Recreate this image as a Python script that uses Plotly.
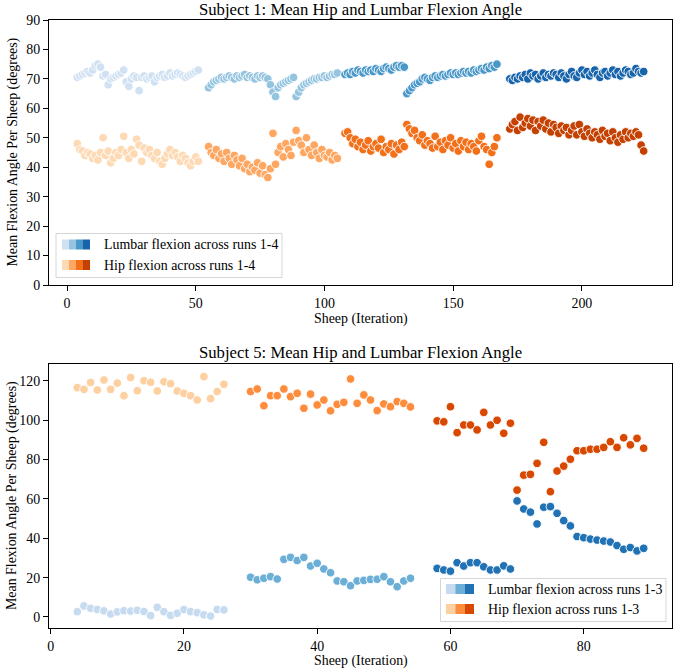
import plotly.graph_objects as go

# ---------------- DATA ----------------
# Subject 1 (4 runs)
s1_starts = [4, 55, 108, 172]
s1_lumbar_run1 = [70.5, 71, 71.5, 72, 72.5, 72, 73, 74.5, 75, 74, 71, 71.5, 68, 70, 70.5, 71, 71.5, 72, 73, 69,
                  67.5, 70, 71, 70.5, 66, 70.5, 71, 70, 70.5, 71, 69, 70.5, 71, 71.5, 70.5, 71, 72, 71, 71.5, 72,
                  71.5, 71, 70.5, 71, 71.5, 72, 72.5, 73]
s1_lumbar_run2 = [67, 68, 69, 69.5, 70, 70.5, 70, 70.5, 71, 70.5, 70, 71, 70.5, 71, 71.5, 70.5, 71, 70.5, 70, 71,
                  70.5, 71, 70.5, 70, 68, 65.5, 64, 67, 68, 68.5, 69, 69.5, 70, 70.5, 64, 65.5, 67, 68, 68.5, 69,
                  69.5, 70, 70, 70.5, 70.5, 71, 70.5, 71, 71.5, 71.5, 72]
s1_lumbar_run3 = [71.5, 72, 71.5, 72.5, 72, 73, 72.5, 72, 73, 72.5, 73, 72.5, 73.5, 73, 72.5, 73.5, 74, 73.5, 73, 74,
                  74.5, 74, 74.5, 74,
                  65, 66, 67, 68, 68.5, 69, 70, 70.5, 70, 69.5, 70.5, 71, 70.5, 71, 71.5, 71, 71.5, 72, 71.5, 72,
                  71.5, 72, 72.5, 72, 72.5, 72, 73, 72.5, 73, 73.5, 73, 74, 73.5, 74.5, 74, 75]
s1_lumbar_run4 = [70, 69.5, 70.5, 70, 71, 70.5, 71.5, 70, 72, 71, 71.5, 70, 71, 72, 70.5, 71.5, 71, 72, 71.5, 70.5,
                  72, 71, 70, 71.5, 72.5, 71, 70.5, 72, 73, 71.5, 72.5, 71, 72, 73, 71.5, 70.5, 72, 72.5, 71, 72,
                  73, 71.5, 72.5, 71, 72, 73, 72.5, 71.5, 72, 73.5, 72.5, 72, 72.5]
s1_hip_run1 = [48, 46, 45.5, 44, 45, 44.5, 43, 44, 42.5, 45, 50, 44, 45.5, 41.5, 43, 45, 44, 46, 50.5, 45,
               43, 46, 44.5, 49.5, 47.5, 42, 46.5, 45, 46, 44, 43, 45, 42, 41, 43, 44.5, 46, 44, 45, 43.5,
               42, 44, 43, 41.5, 40.5, 42, 43.5, 42]
s1_hip_run2 = [47, 45, 44, 46, 43, 44.5, 42, 45, 43, 41, 44, 42.5, 40.5, 43, 39.5, 41, 38.5, 40, 39, 41.5,
               38, 40.5, 37.5, 36.5, 39.5, 51.5, 41, 45, 47, 43.5, 48, 46, 44, 48.5, 52.5, 49, 47.5, 45, 50, 46,
               44, 47.5, 45, 43, 46, 44, 43.5, 45, 42.5, 44, 43]
s1_hip_run3 = [51.5, 52, 50, 48, 49.5, 47, 48.5, 46, 47.5, 49, 45.5, 47, 48, 46.5, 49.5, 45, 47, 46, 48, 44.5,
               47.5, 46, 48.5, 47,
               54.5, 53, 51.5, 52.5, 50, 49, 51, 47.5, 49, 48, 46.5, 50.5, 47, 48.5, 46, 49, 47.5, 50, 46.5, 48,
               45.5, 49, 47, 48.5, 46, 48, 47, 45.5, 49, 50.5, 47, 46, 41, 45, 47, 50]
s1_hip_run4 = [53, 54.5, 55.5, 52.5, 57, 53.5, 55, 56.5, 54, 56, 52.5, 55.5, 54, 56, 53, 55, 52, 54.5, 53.5, 51.5,
               54, 52.5, 53.5, 51, 52.5, 54, 51, 54.5, 52, 50.5, 53, 51.5, 50, 52, 51, 49.5, 52.5, 50.5, 51.5, 49,
               52, 50, 48.5, 51, 49.5, 52, 50, 51.5, 50.5, 52, 51, 47.5, 45.5]

# Subject 5 (3 runs)
s5_starts = [4, 30, 58]
s5_lumbar_run1 = [2.7, 5.6, 4.4, 3.8, 3.1, 1.5, 2.6, 3.2, 3.0, 3.4, 2.8, 0.7, 4.9, 2.7, 0.8, 1.9, 3.8, 2.7, 2.2,
                  1.1, 0.5, 3.8, 3.6]
s5_lumbar_run2 = [20.2, 18.9, 19.7, 20.5, 19.3, 29.3, 30.3, 28.7, 30.3, 25.9, 27.3, 24.4, 22.5, 18.3, 17.9, 15.9,
                  18.3, 18.6, 19.1, 19.2, 20.5, 17.9, 15.4, 18.3, 19.7]
s5_lumbar_run3 = [24.7, 23.9, 23.3, 27.6, 25.9, 27.6, 27.6, 25.5, 23.9, 23.9, 26.0, 24.4,
                  59.0, 54.9, 53.3, 47.3, 55.8, 56.1, 52.7, 49.0, 46.3, 40.9, 40.3, 39.6, 39.1, 38.6, 38.1, 36.3,
                  34.4, 35.3, 33.6, 34.9]
s5_hip_run1 = [116.6, 115.7, 119.2, 115.4, 120.5, 115.7, 118.9, 112.5, 121.7, 115.0, 120.1, 119.3, 114.9, 119.6,
               118.6, 114.9, 113.7, 112.5, 110.3, 122.2, 111.0, 114.6, 118.3]
s5_hip_run2 = [114.6, 115.9, 107.4, 112.5, 112.5, 115.9, 112.0, 113.7, 106.1, 113.3, 107.8, 110.3, 104.8, 108.1,
               109.1, 121.0, 108.6, 112.9, 110.3, 104.9, 108.3, 106.9, 109.5, 108.6, 106.8]
s5_hip_run3 = [99.7, 99.2, 106.9, 93.7, 97.6, 97.6, 95.1, 104.0, 97.6, 100.0, 93.4, 98.5,
               64.5, 72.1, 72.5, 78.1, 88.8, 63.7, 74.2, 76.7, 80.2, 84.5, 84.5, 85.3, 85.3, 86.2, 89.1, 86.2,
               91.1, 87.5, 90.8, 85.8]

s1_lumbar = [s1_lumbar_run1, s1_lumbar_run2, s1_lumbar_run3, s1_lumbar_run4]
s1_hip = [s1_hip_run1, s1_hip_run2, s1_hip_run3, s1_hip_run4]
s5_lumbar = [s5_lumbar_run1, s5_lumbar_run2, s5_lumbar_run3]
s5_hip = [s5_hip_run1, s5_hip_run2, s5_hip_run3]

titles = ["Subject 1: Mean Hip and Lumbar Flexion Angle", "Subject 5: Mean Hip and Lumbar Flexion Angle"]
x_label = "Sheep (Iteration)"
y_label = "Mean Flexion Angle Per Sheep (degrees)"
legend_s1 = ["Lumbar flexion across runs 1-4", "Hip flexion across runs 1-4"]
legend_s5 = ["Lumbar flexion across runs 1-3", "Hip flexion across runs 1-3"]

# ---------------- STYLE ----------------
blues4 = ['#cfe1f2', '#94c4df', '#4a98c9', '#1764ab']
oranges4 = ['#fdd9b4', '#fda762', '#f3701b', '#c54102']
blues3 = ['#c6dbef', '#6baed6', '#2171b5']
oranges3 = ['#fdd0a2', '#fd8d3c', '#d94801']

FONT = "Liberation Serif, Times New Roman, serif"
W, H = 674, 670
ML, MR, MT, MB = 49, 2, 20, 42
PW = W - ML - MR
PH = H - MT - MB


def px(xp):
    return (xp - ML) / PW


def py(yp):
    return (H - MB - yp) / PH


fig = go.Figure()


def add_run(xs0, ys, color, xa, ya):
    xs = list(range(xs0, xs0 + len(ys)))
    fig.add_trace(go.Scatter(
        x=xs, y=ys, mode="markers", xaxis=xa, yaxis=ya, showlegend=False,
        marker=dict(size=8.6, color=color, line=dict(color="white", width=0.9)),
        hoverinfo="x+y"))


for i in range(4):
    add_run(s1_starts[i], s1_lumbar[i], blues4[i], "x", "y")
    add_run(s1_starts[i], s1_hip[i], oranges4[i], "x", "y")
for i in range(3):
    add_run(s5_starts[i], s5_lumbar[i], blues3[i], "x2", "y2")
    add_run(s5_starts[i], s5_hip[i], oranges3[i], "x2", "y2")

axis_common = dict(showline=True, mirror=True, linecolor="black", linewidth=1.1,
                   ticks="outside", ticklen=5, tickwidth=1.1, tickcolor="black",
                   showgrid=False, zeroline=False,
                   tickfont=dict(family=FONT, size=13.9, color="black"))

top_dom = [py(285), py(20)]
bot_dom = [py(628), py(364)]

fig.update_layout(
    width=W, height=H, margin=dict(l=ML, r=MR, t=MT, b=MB),
    plot_bgcolor="white", paper_bgcolor="white",
    font=dict(family=FONT, size=13.9, color="black"),
    xaxis=dict(domain=[0, 1], range=[-7, 235], tickvals=[0, 50, 100, 150, 200], anchor="y", **axis_common),
    yaxis=dict(domain=top_dom, range=[0, 90], tickvals=list(range(0, 91, 10)), anchor="x", **axis_common),
    xaxis2=dict(domain=[0, 1], range=[-0.25, 93.25], tickvals=[0, 20, 40, 60, 80], anchor="y2", **axis_common),
    yaxis2=dict(domain=bot_dom, range=[-5.6, 128.6], tickvals=list(range(0, 121, 20)), anchor="x2", **axis_common),
)

ann = []
# titles
for t, yp in zip(titles, [10, 352]):
    ann.append(dict(text=t, x=px((ML + W - MR) / 2), y=py(yp), xref="paper", yref="paper",
                    xanchor="center", yanchor="middle", showarrow=False,
                    font=dict(family=FONT, size=16.7, color="black")))
# x labels
for yp in [319, 661]:
    ann.append(dict(text=x_label, x=px((ML + W - MR) / 2), y=py(yp), xref="paper", yref="paper",
                    xanchor="center", yanchor="middle", showarrow=False,
                    font=dict(family=FONT, size=13.9, color="black")))
# y labels
for yc in [(20 + 285) / 2, (364 + 628) / 2]:
    ann.append(dict(text=y_label, x=px(12), y=py(yc), xref="paper", yref="paper",
                    xanchor="center", yanchor="middle", textangle=-90, showarrow=False,
                    font=dict(family=FONT, size=13.9, color="black")))

shapes = []


def legend(box, rows, labels, palettes, patch_x0, patch_w, text_x):
    x0, y0, x1, y1 = box
    shapes.append(dict(type="rect", xref="paper", yref="paper", x0=px(x0), x1=px(x1), y0=py(y1), y1=py(y0),
                       fillcolor="rgba(255,255,255,0.8)", line=dict(color="#d6d6d6", width=1), layer="above"))
    for yc, lab, pal in zip(rows, labels, palettes):
        for k, c in enumerate(pal):
            shapes.append(dict(type="rect", xref="paper", yref="paper",
                               x0=px(patch_x0 + k * patch_w), x1=px(patch_x0 + (k + 1) * patch_w),
                               y0=py(yc + 5), y1=py(yc - 5), fillcolor=c, line=dict(width=0), layer="above"))
        ann.append(dict(text=lab, x=px(text_x), y=py(yc), xref="paper", yref="paper",
                        xanchor="left", yanchor="middle", showarrow=False,
                        font=dict(family=FONT, size=13.9, color="black")))


legend((56, 233.5, 282, 277.5), [244.5, 265], legend_s1, [blues4, oranges4], 62, 7, 101.5)
legend((440.5, 578.5, 666, 621.5), [589, 609], legend_s5, [blues3, oranges3], 446, 9.33, 486)

fig.update_layout(annotations=ann, shapes=shapes)
fig.write_html("out.html")
